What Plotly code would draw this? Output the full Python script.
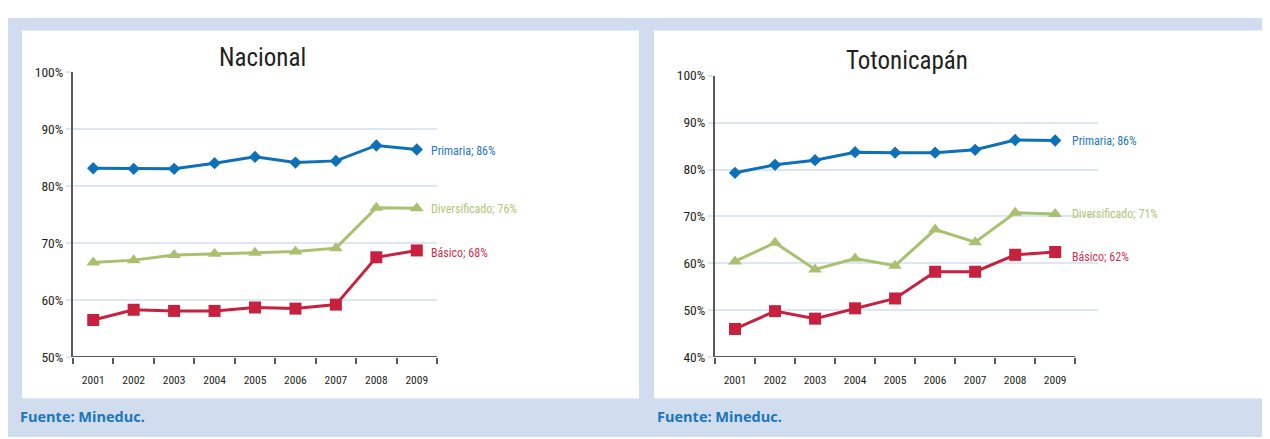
import plotly.graph_objects as go

# ---------------- data ----------------
years = [2001, 2002, 2003, 2004, 2005, 2006, 2007, 2008, 2009]
series_names = ["Primaria", "Diversificado", "Básico"]

nac_primaria = [83.1, 83.0, 83.0, 84.0, 85.1, 84.1, 84.4, 87.1, 86.4]
nac_diversificado = [66.6, 67.0, 67.9, 68.1, 68.3, 68.5, 69.1, 76.2, 76.1]
nac_basico = [56.5, 58.3, 58.1, 58.1, 58.7, 58.5, 59.2, 67.5, 68.7]
nac_end_labels = [86, 76, 68]

toto_primaria = [79.3, 81.0, 82.0, 83.7, 83.6, 83.6, 84.2, 86.3, 86.2]
toto_diversificado = [60.4, 64.4, 58.7, 61.0, 59.5, 67.2, 64.5, 70.8, 70.5]
toto_basico = [46.0, 49.8, 48.2, 50.4, 52.5, 58.2, 58.2, 61.8, 62.4]
toto_end_labels = [86, 71, 62]

titles = ["Nacional", "Totonicapán"]
source_text = "Fuente: Mineduc."

# ---------------- styles ----------------
W, H = 1270, 439
OFF = 8  # page body margin offset compensation
FONT = "Roboto Condensed, Liberation Sans Narrow, DejaVu Sans Condensed, sans-serif"
line_colors = ["#0e70b8", "#a9c16f", "#c8213f"]
text_colors = ["#2278bf", "#b0c677", "#d0304e"]
symbols = ["diamond", "triangle-up", "square"]
msizes = [9.5, 12, 12]
band = "#d0ddee"
grid = "#dde7f3"
axis_col = "#58595b"
dark = "#231f20"


def px(x):
    return (x - OFF) / W


def py(y):
    return 1 - (y - OFF) / H


fig = go.Figure()

panels = [
    dict(data=[nac_primaria, nac_diversificado, nac_basico], labels=nac_end_labels,
         xa="x", ya="y", xdom=[73, 437], ydom=[362, 66], yr=[50, 100],
         xr=[years[0] - 0.5, years[-1] + 0.5], xshift=12, yshifts=[-2, -1, -3],
         title_xy=(262, 51)),
    dict(data=[toto_primaria, toto_diversificado, toto_basico], labels=toto_end_labels,
         xa="x2", ya="y2", xdom=[715, 1098], ydom=[362, 70], yr=[40, 100],
         xr=[years[0] - 0.5, years[-1] + 1.07], xshift=15, yshifts=[-1, 0, -5],
         title_xy=(907, 54)),
]

annotations = []
shapes = [
    dict(type="rect", xref="paper", yref="paper", x0=px(7), x1=px(1280), y0=py(445), y1=py(10),
         fillcolor=band, line_width=0, layer="below"),
    dict(type="rect", xref="paper", yref="paper", x0=px(22), x1=px(639), y0=py(405), y1=py(23),
         fillcolor="white", line_width=0, layer="below"),
    dict(type="rect", xref="paper", yref="paper", x0=px(654), x1=px(1280), y0=py(405), y1=py(23),
         fillcolor="white", line_width=0, layer="below"),
]

for i, p in enumerate(panels):
    for k, vals in enumerate(p["data"]):
        fig.add_trace(go.Scatter(
            x=years, y=vals, mode="lines+markers", xaxis=p["xa"], yaxis=p["ya"],
            line=dict(color=line_colors[k], width=3),
            marker=dict(symbol=symbols[k], size=msizes[k], color=line_colors[k]),
            showlegend=False, hoverinfo="skip"))
        annotations.append(dict(
            x=years[-1], y=vals[-1], xref=p["xa"], yref=p["ya"],
            text=f"{series_names[k]}; {p['labels'][k]}%", showarrow=False,
            xanchor="left", yanchor="middle", xshift=p["xshift"], yshift=p["yshifts"][k],
            font=dict(family=FONT, size=12, color=text_colors[k])))
    suffix = "" if i == 0 else "2"
    bounds = [y - 0.5 for y in years] + [years[-1] + 0.5]
    fig.layout["xaxis" + suffix] = dict(
        domain=[px(p["xdom"][0]), px(p["xdom"][1])], range=p["xr"],
        anchor=p["ya"], tickvals=years, ticktext=[str(y) for y in years],
        ticks="", showgrid=False, zeroline=False,
        showline=False, ticklabelstandoff=14,
        tickfont=dict(family=FONT, size=11.5, color=dark),
        minor=dict(tickvals=bounds, ticks="outside", ticklen=6, tickwidth=2,
                   tickcolor=axis_col, showgrid=False),
        fixedrange=True)
    fig.layout["yaxis" + suffix] = dict(
        domain=[py(p["ydom"][0]), py(p["ydom"][1])], range=p["yr"],
        anchor=p["xa"], dtick=10, ticksuffix="%", showgrid=True, gridcolor=grid,
        gridwidth=2, zeroline=False, showline=True, linecolor=axis_col, linewidth=2,
        ticks="outside", ticklen=5, tickwidth=2, tickcolor=grid,
        tickfont=dict(family=FONT, size=13.5, color=dark), fixedrange=True)
    shapes.append(dict(type="line", xref=p["xa"], yref=p["ya"],
                       x0=bounds[0], x1=bounds[-1], y0=p["yr"][0], y1=p["yr"][0],
                       line=dict(color=axis_col, width=2)))
    annotations.append(dict(
        x=px(p["title_xy"][0]), y=py(p["title_xy"][1]), xref="paper", yref="paper",
        text=titles[i], showarrow=False, xanchor="center", yanchor="middle",
        font=dict(family=FONT, size=25, color=dark)))

for fx in (18, 655):
    annotations.append(dict(x=px(fx), y=py(424), xref="paper", yref="paper", text=f"<b>{source_text}</b>",
                            showarrow=False, xanchor="left", yanchor="middle",
                            font=dict(family="Open Sans, DejaVu Sans, sans-serif", size=14.5, color="#1a75bb")))

fig.update_layout(
    width=W, height=H, margin=dict(l=0, r=0, t=0, b=0),
    paper_bgcolor="white", plot_bgcolor="white",
    shapes=shapes, annotations=annotations, showlegend=False)

fig.write_html("out.html")
